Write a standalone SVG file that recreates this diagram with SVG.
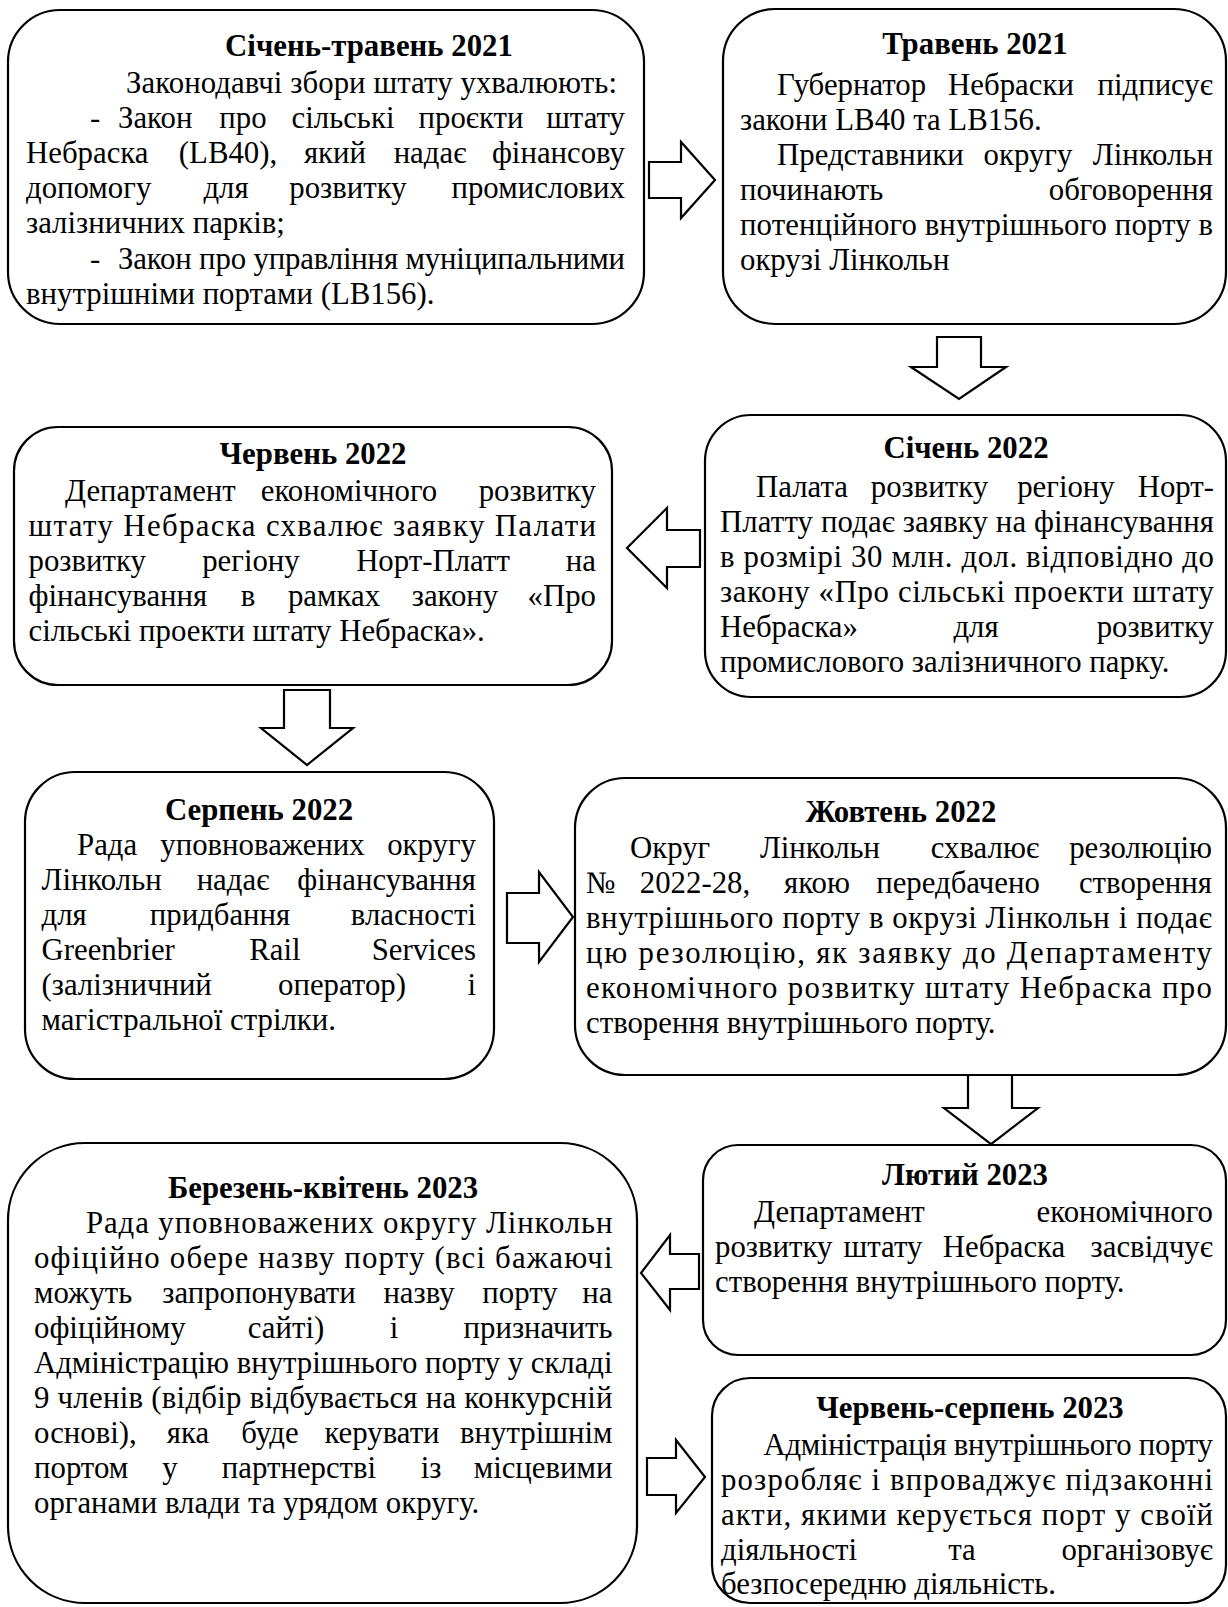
<svg xmlns="http://www.w3.org/2000/svg" width="1228" height="1607" viewBox="0 0 1228 1607">
<style>
.box{fill:#fff;stroke:#000;stroke-width:2.2}
.arr{fill:#fff;stroke:#000;stroke-width:2.2;stroke-linejoin:miter}
text{font-family:"Liberation Serif","Times New Roman",serif;font-size:30.8px;fill:#000}
.h{font-weight:bold;text-anchor:middle}
.m{text-anchor:middle}
.e{text-anchor:end}
.s{text-anchor:start}
</style>
<rect width="1228" height="1607" fill="#fff"/>

<g id="connectors">
<polygon class="arr" points="649,162 681,162 681,142 715,180 681,218 681,198 649,198"/>
<polygon class="arr" points="937,337 981,337 981,367 1006,367 959,399 911,367 937,367"/>
<polygon class="arr" points="700,530 667,530 667,508 627,548 667,588 667,567 700,567"/>
<polygon class="arr" points="284,690 330,690 330,728 353,728 307,765 261,728 284,728"/>
<polygon class="arr" points="507,893 539,893 539,872 573,917 539,962 539,943 507,943"/>
<polygon class="arr" points="968,1074 1012,1074 1012,1108 1038,1108 991,1144 944,1108 968,1108"/>
<polygon class="arr" points="699,1254 670,1254 670,1235 641,1273 670,1310 670,1289 699,1289"/>
<polygon class="arr" points="647,1458 676,1458 676,1440 705,1477 676,1513 676,1495 647,1495"/>
</g>

<g id="n1">
<rect class="box" x="8" y="10" width="636" height="314" rx="52"/>
<text class="h" x="369" y="56">Січень-травень 2021</text>
<text x="126" y="93" textLength="491">Законодавчі збори штату ухвалюють:</text>
<text y="128"><tspan x="90">-</tspan><tspan x="118">Закон</tspan><tspan class="m" x="243">про</tspan><tspan class="m" x="343">сільські</tspan><tspan class="m" x="471">проєкти</tspan><tspan class="e" x="625">штату</tspan></text>
<text y="163"><tspan x="26">Небраска</tspan><tspan class="m" x="228">(LB40),</tspan><tspan class="m" x="335">який</tspan><tspan class="m" x="430">надає</tspan><tspan class="e" x="625">фінансову</tspan></text>
<text y="198"><tspan x="26">допомогу</tspan><tspan class="m" x="226">для</tspan><tspan class="m" x="348">розвитку</tspan><tspan class="e" x="625">промислових</tspan></text>
<text x="26" y="233">залізничних парків;</text>
<text x="90" y="268.5">-</text>
<text x="118" y="268.5" textLength="507">Закон про управління муніципальними</text>
<text x="26" y="303.5">внутрішніми портами (LB156).</text>
</g>

<g id="n2">
<rect class="box" x="723" y="9" width="503" height="315" rx="52"/>
<text class="h" x="975" y="54">Травень 2021</text>
<text y="94.5"><tspan x="777">Губернатор</tspan><tspan class="m" x="1011">Небраски</tspan><tspan class="e" x="1213">підписує</tspan></text>
<text x="740" y="129.5">закони LB40 та LB156.</text>
<text y="164.5"><tspan x="777">Представники</tspan><tspan class="m" x="1028">округу</tspan><tspan class="e" x="1213">Лінкольн</tspan></text>
<text y="199.5"><tspan x="740">починають</tspan><tspan class="e" x="1213">обговорення</tspan></text>
<text x="740" y="234.5" textLength="473">потенційного внутрішнього порту в</text>
<text x="740" y="269.5">окрузі Лінкольн</text>
</g>

<g id="n3">
<rect class="box" x="705" y="415" width="521" height="282" rx="46"/>
<text class="h" x="966" y="458">Січень 2022</text>
<text y="497"><tspan x="756">Палата</tspan><tspan class="m" x="929.5">розвитку</tspan><tspan class="m" x="1066">регіону</tspan><tspan class="e" x="1214">Норт-</tspan></text>
<text x="720" y="532" textLength="494">Платту подає заявку на фінансування</text>
<text x="720" y="567" textLength="494">в розмірі 30 млн. дол. відповідно до</text>
<text x="720" y="602" textLength="494">закону «Про сільські проекти штату</text>
<text y="637"><tspan x="720">Небраска»</tspan><tspan class="m" x="976">для</tspan><tspan class="e" x="1214">розвитку</tspan></text>
<text x="720" y="672">промислового залізничного парку.</text>
</g>

<g id="n4">
<rect class="box" x="14" y="427" width="598" height="258" rx="44"/>
<text class="h" x="313" y="464">Червень 2022</text>
<text y="501"><tspan x="65">Департамент</tspan><tspan class="m" x="349">економічного</tspan><tspan class="e" x="596">розвитку</tspan></text>
<text x="28.5" y="536" textLength="567.5">штату Небраска схвалює заявку Палати</text>
<text y="571"><tspan x="28.5">розвитку</tspan><tspan class="m" x="251">регіону</tspan><tspan class="m" x="433">Норт-Платт</tspan><tspan class="e" x="596">на</tspan></text>
<text y="606"><tspan x="28.5">фінансування</tspan><tspan class="m" x="248">в</tspan><tspan class="m" x="334">рамках</tspan><tspan class="m" x="455">закону</tspan><tspan class="e" x="596">«Про</tspan></text>
<text x="28.5" y="641">сільські проекти штату Небраска».</text>
</g>

<g id="n5">
<rect class="box" x="25" y="772" width="469" height="307" rx="50"/>
<text class="h" x="259" y="820">Серпень 2022</text>
<text y="855"><tspan x="77">Рада</tspan><tspan class="m" x="262.5">уповноважених</tspan><tspan class="e" x="476">округу</tspan></text>
<text y="890"><tspan x="41.5">Лінкольн</tspan><tspan class="m" x="233">надає</tspan><tspan class="e" x="476">фінансування</tspan></text>
<text y="925"><tspan x="41.5">для</tspan><tspan class="m" x="220">придбання</tspan><tspan class="e" x="476">власності</tspan></text>
<text y="960"><tspan x="41.5">Greenbrier</tspan><tspan class="m" x="275">Rail</tspan><tspan class="e" x="476">Services</tspan></text>
<text y="995"><tspan x="41.5">(залізничний</tspan><tspan class="m" x="342">оператор)</tspan><tspan class="e" x="476">і</tspan></text>
<text x="41.5" y="1030">магістральної стрілки.</text>
</g>

<g id="n6">
<rect class="box" x="575" y="778" width="651" height="297" rx="50"/>
<text class="h" x="901" y="822">Жовтень 2022</text>
<text y="858"><tspan x="630">Округ</tspan><tspan class="m" x="820">Лінкольн</tspan><tspan class="m" x="985">схвалює</tspan><tspan class="e" x="1212">резолюцію</tspan></text>
<text y="893"><tspan x="586">№</tspan><tspan class="m" x="695">2022-28,</tspan><tspan class="m" x="817">якою</tspan><tspan class="m" x="958">передбачено</tspan><tspan class="e" x="1212">створення</tspan></text>
<text x="586" y="928" textLength="626">внутрішнього порту в окрузі Лінкольн і подає</text>
<text x="586" y="963" textLength="626">цю резолюцію, як заявку до Департаменту</text>
<text x="586" y="998" textLength="626">економічного розвитку штату Небраска про</text>
<text x="586" y="1033">створення внутрішнього порту.</text>
</g>

<g id="n7">
<rect class="box" x="703" y="1145" width="523" height="210" rx="35"/>
<text class="h" x="965" y="1185">Лютий 2023</text>
<text y="1222"><tspan x="754">Департамент</tspan><tspan class="e" x="1213">економічного</tspan></text>
<text y="1257"><tspan x="715">розвитку</tspan><tspan class="m" x="883">штату</tspan><tspan class="m" x="1004">Небраска</tspan><tspan class="e" x="1213">засвідчує</tspan></text>
<text x="715" y="1292">створення внутрішнього порту.</text>
</g>

<g id="n8">
<rect class="box" x="8" y="1143" width="629" height="460" rx="77"/>
<text class="h" x="323" y="1198">Березень-квітень 2023</text>
<text x="86" y="1233" textLength="526.5">Рада уповноважених округу Лінкольн</text>
<text x="34" y="1268" textLength="578.5">офіційно обере назву порту (всі бажаючі</text>
<text y="1303"><tspan x="34">можуть</tspan><tspan class="m" x="259">запропонувати</tspan><tspan class="m" x="419">назву</tspan><tspan class="m" x="520">порту</tspan><tspan class="e" x="612.5">на</tspan></text>
<text y="1338"><tspan x="34">офіційному</tspan><tspan class="m" x="286">сайті)</tspan><tspan class="m" x="394">і</tspan><tspan class="e" x="612.5">призначить</tspan></text>
<text x="34" y="1373" textLength="578.5">Адміністрацію внутрішнього порту у складі</text>
<text x="34" y="1408" textLength="578.5">9 членів (відбір відбувається на конкурсній</text>
<text y="1443"><tspan x="34">основі),</tspan><tspan class="m" x="188">яка</tspan><tspan class="m" x="270">буде</tspan><tspan class="m" x="382">керувати</tspan><tspan class="e" x="612.5">внутрішнім</tspan></text>
<text y="1478"><tspan x="34">портом</tspan><tspan class="m" x="170">у</tspan><tspan class="m" x="299">партнерстві</tspan><tspan class="m" x="431">із</tspan><tspan class="e" x="612.5">місцевими</tspan></text>
<text x="34" y="1513">органами влади та урядом округу.</text>
</g>

<g id="n9">
<rect class="box" x="712" y="1378" width="514" height="225" rx="38"/>
<text class="h" x="970" y="1418">Червень-серпень 2023</text>
<text x="763.5" y="1455" textLength="449.5">Адміністрація внутрішнього порту</text>
<text x="721" y="1490" textLength="492">розробляє і впроваджує підзаконні</text>
<text x="721" y="1525" textLength="492">акти, якими керується порт у своїй</text>
<text y="1560"><tspan x="721">діяльності</tspan><tspan class="m" x="962">та</tspan><tspan class="e" x="1213">організовує</tspan></text>
<text x="721" y="1594">безпосередню діяльність.</text>
</g>
</svg>
